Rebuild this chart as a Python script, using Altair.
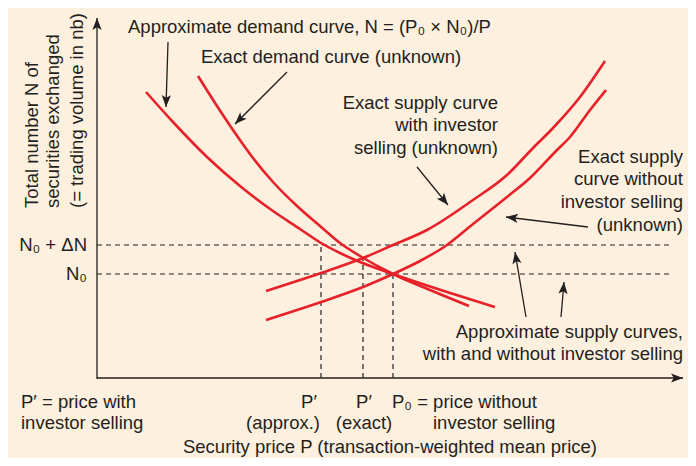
import math
import altair as alt
import pandas as pd

# ---------------- data (P = security price, N = number exchanged) -------------
approx_demand_P = [49, 76, 110, 143, 176, 203, 224, 243, 263, 296, 350, 398]
approx_demand_N = [286, 256, 221, 192, 167, 149, 135, 125, 116, 104, 86, 71]

exact_demand_P = [101, 120, 136, 156, 176, 200, 223, 243, 263, 296, 333, 372]
exact_demand_N = [302, 272, 248, 220, 196, 172, 152, 135, 122, 104, 88, 72]

supply_with_P = [169, 224, 266, 296, 330, 376, 410, 436, 456, 483, 508]
supply_with_N = [87, 105, 120, 133, 148, 178, 203, 230, 250, 281, 317]

supply_without_P = [169, 224, 266, 296, 323, 350, 376, 410, 433, 460, 473, 493, 509]
supply_without_N = [58, 76, 91, 104, 117, 133, 154, 181, 200, 228, 241, 268, 288]

N0 = 104
N0_plus_dN = 133
P_approx = 224
P_exact = 266
P0 = 296
P_end = 576     # right end of dashed approximate supply curves
P_axis_end = 586
N_axis_end = 360

# annotation arrows: (P start, N start, P tip, N tip)
arrows = [
    (71, 336, 69, 271),     # approximate demand
    (190, 306, 138, 254),   # exact demand
    (320, 211, 351, 173),   # exact supply with selling
    (491, 151, 409, 161),   # exact supply without selling
    (429, 61, 418, 126),    # approx supply (with)
    (464, 61, 467, 96),     # approx supply (without)
    (0, -1, 0, N_axis_end),        # y axis
    (0, 0, P_axis_end, 0),         # x axis
]

# texts
left_texts = [
    ("Approximate demand curve, N = (P\u2080 \u00d7 N\u2080)/P", 31, 351),
    ("Exact demand curve (unknown)", 104, 321),
    ("P\u2032 = price with", -76, -24),
    ("investor selling", -76, -45),
    ("P\u2080 = price without", 295, -24),
    ("investor selling", 336, -45),
]
right_texts = [
    ("Exact supply curve", 401, 275),
    ("with investor", 401, 253),
    ("selling (unknown)", 401, 230),
    ("Exact supply", 586, 221),
    ("curve without", 586, 199),
    ("investor selling", 586, 176),
    ("(unknown)", 586, 153),
    ("Approximate supply curves,", 586, 46),
    ("with and without investor selling", 586, 24),
    ("N\u2080 + \u0394N", -10, 133),
    ("N\u2080", -10, 104),
]
center_texts = [
    ("P\u2032", 212, -24),
    ("(approx.)", 186, -45),
    ("P\u2032", 267, -24),
    ("(exact)", 267, -45),
    ("Security price P (transaction-weighted mean price)", 293, -69),
]
ytitle_texts = [
    ("Total number N of", -65, 170),
    ("securities exchanged", -44, 170),
    ("(= trading volume in nb)", -20, 170),
]

# ---------------- build tables -------------
rows = []
for name, Ps, Ns in [("approx_demand", approx_demand_P, approx_demand_N),
                     ("exact_demand", exact_demand_P, exact_demand_N),
                     ("supply_with", supply_with_P, supply_with_N),
                     ("supply_without", supply_without_P, supply_without_N)]:
    for p, n in zip(Ps, Ns):
        rows.append({"curve": name, "P": p, "N": n})
curves_df = pd.DataFrame(rows)

dash_df = pd.DataFrame([
    {"P": 0, "P2": P_end, "N": N0_plus_dN, "N2": N0_plus_dN},
    {"P": 0, "P2": P_end, "N": N0, "N2": N0},
    {"P": P_approx, "P2": P_approx, "N": 0, "N2": N0_plus_dN},
    {"P": P_exact, "P2": P_exact, "N": 0, "N2": 120},
    {"P": P0, "P2": P0, "N": 0, "N2": N0},
])

shaft_df = pd.DataFrame([{"P": a[0], "N": a[1], "P2": a[2], "N2": a[3]} for a in arrows])
head_df = pd.DataFrame([
    {"P": a[2], "N": a[3],
     "angle": math.degrees(math.atan2(a[2] - a[0], a[3] - a[1])) % 360}
    for a in arrows
])

def tdf(lst):
    return pd.DataFrame([{"t": t, "P": p, "N": n} for t, p, n in lst])

X = alt.Scale(domain=[-89, 591])
Y = alt.Scale(domain=[-80, 370])
RED = "#E8202A"
INK = "#231F20"
FONT = "Liberation Sans"
FS = 18.5

def xy(x="P:Q", y="N:Q"):
    return dict(x=alt.X(x, scale=X, axis=None), y=alt.Y(y, scale=Y, axis=None))

curves = alt.Chart(curves_df).mark_line(
    color=RED, strokeWidth=2.6, interpolate="monotone"
).encode(**xy(), detail="curve:N", order="P:Q")

dashes = alt.Chart(dash_df).mark_rule(
    color=INK, strokeWidth=1.2, strokeDash=[5, 4]
).encode(**xy(), x2="P2:Q", y2="N2:Q")

shafts = alt.Chart(shaft_df).mark_rule(color=INK, strokeWidth=1.3).encode(
    **xy(), x2="P2:Q", y2="N2:Q")

heads = alt.Chart(head_df).mark_point(
    shape="M0,0L0.5,1.3L0,1.0L-0.5,1.3Z", filled=True, color=INK,
    opacity=1, size=340, strokeWidth=0
).encode(**xy(), angle=alt.Angle("angle:Q", scale=None))

def texts(df, align, angle=0):
    return alt.Chart(df).mark_text(
        align=align, baseline="middle", font=FONT, fontSize=FS, color=INK,
        angle=angle
    ).encode(**xy(), text="t:N")

chart = alt.layer(
    dashes, curves, shafts, heads,
    texts(tdf(left_texts), "left"),
    texts(tdf(right_texts), "right"),
    texts(tdf(center_texts), "center"),
    texts(tdf(ytitle_texts), "left", angle=270),
).properties(
    width=680, height=450, background="#FDF0DE",
    autosize=alt.AutoSizeParams(type="none"), padding=0
).configure_view(stroke=None)

chart.save("out.html", embed_options={"renderer": "svg", "actions": False})
